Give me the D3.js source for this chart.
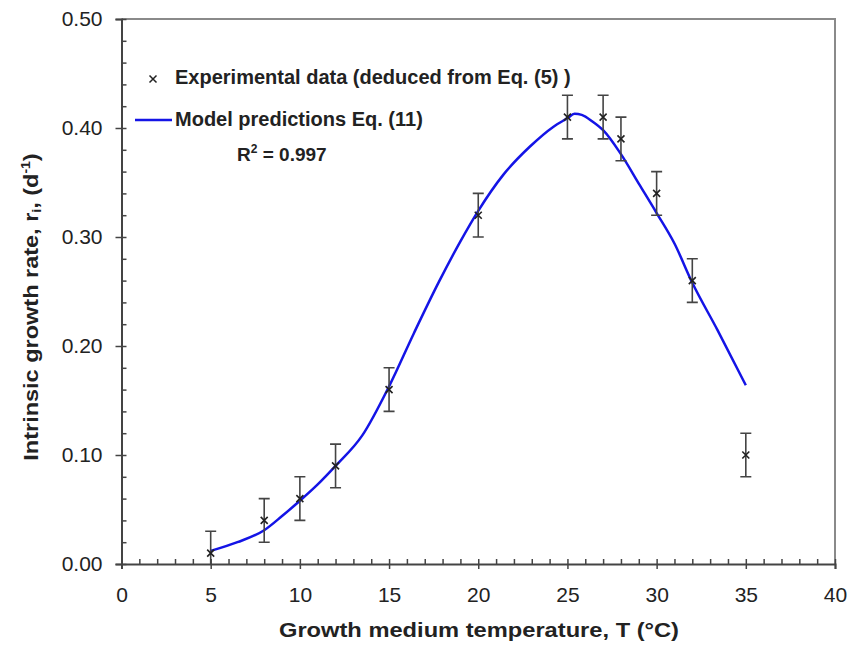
<!DOCTYPE html>
<html>
<head>
<meta charset="utf-8">
<script src="https://cdn.jsdelivr.net/npm/d3@7"></script>
<style>
  body { margin: 0; background: #fff; }
  svg { display: block; font-family: "Liberation Sans", Arial, sans-serif; }
</style>
</head>
<body>
<script>
// experimental points (deduced from Eq. 5)
const tempObs = [5, 8, 10, 12, 15, 20, 25, 27, 28, 30, 32, 35];
const rateObs = [0.01, 0.04, 0.06, 0.09, 0.16, 0.32, 0.41, 0.41, 0.39, 0.34, 0.26, 0.10];
const rateErr = [0.02, 0.02, 0.02, 0.02, 0.02, 0.02, 0.02, 0.02, 0.02, 0.02, 0.02, 0.02];
// model curve Eq. (11)
const tempModel = [5, 6.5, 8, 9, 10, 11, 12, 13.5, 15, 16.4, 17.8, 19, 20, 21.4, 22.9, 24.2, 25, 25.4, 25.8, 26.4, 27, 28, 29, 30, 31, 32, 33.4, 35];
const rateModel = [0.012, 0.02, 0.031, 0.044, 0.058, 0.073, 0.09, 0.118, 0.163, 0.212, 0.259, 0.296, 0.324, 0.357, 0.383, 0.401, 0.409, 0.413, 0.412, 0.406, 0.398, 0.376, 0.349, 0.322, 0.294, 0.258, 0.215, 0.164];
// ticks
const xTicks = [0, 5, 10, 15, 20, 25, 30, 35, 40];
const yTicks = [0, 0.1, 0.2, 0.3, 0.4, 0.5];

const width = 849, height = 646;
const plotL = 121.5, plotR = 835, plotT = 19, plotB = 564;

const svg = d3.select("body").append("svg")
  .attr("width", width)
  .attr("height", height);

const x = d3.scaleLinear().domain([0, 40]).range([plotL, plotR]);
const y = d3.scaleLinear().domain([0, 0.5]).range([plotB, plotT]);

svg.append("clipPath").attr("id", "plot")
  .append("rect")
  .attr("x", plotL).attr("y", plotT)
  .attr("width", plotR - plotL).attr("height", plotB - plotT);

// frame (top / right)
svg.append("path")
  .attr("d", `M${plotL},${plotT}H${plotR}V${plotB}`)
  .attr("fill", "none")
  .attr("stroke", "#8a8a8a")
  .attr("stroke-width", 2);

// minor ticks inward
const minorX = svg.append("g")
  .attr("transform", `translate(0,${plotB})`)
  .call(d3.axisTop(x).tickValues(d3.range(0, 41, 1)).tickSize(5).tickFormat(""));
const minorY = svg.append("g")
  .attr("transform", `translate(${plotL},0)`)
  .call(d3.axisRight(y).tickValues(d3.range(0, 0.5001, 0.02)).tickSize(5).tickFormat(""));

// major axes
const xAxis = svg.append("g")
  .attr("transform", `translate(0,${plotB})`)
  .call(d3.axisBottom(x).tickValues(xTicks).tickSize(5).tickPadding(18).tickFormat(d3.format("d")));
const yAxis = svg.append("g")
  .attr("transform", `translate(${plotL},0)`)
  .call(d3.axisLeft(y).tickValues(yTicks).tickSize(6).tickPadding(13).tickFormat(d3.format(".2f")));

[minorX, minorY, xAxis, yAxis].forEach(g => {
  g.select(".domain").attr("stroke", "#444").attr("stroke-width", 2);
  g.selectAll(".tick line").attr("stroke", "#444").attr("stroke-width", 1.5);
  g.selectAll("text")
    .attr("fill", "#222")
    .style("font-size", "21px");
});
minorX.select(".domain").remove();
minorY.select(".domain").remove();

// axis titles
svg.append("text")
  .attr("x", 479)
  .attr("y", 637)
  .attr("text-anchor", "middle")
  .attr("font-weight", "bold")
  .attr("font-size", 21)
  .attr("fill", "#222")
  .attr("textLength", 400)
  .attr("lengthAdjust", "spacingAndGlyphs")
  .text("Growth medium temperature, T (°C)");

const yTitle = svg.append("text")
  .attr("transform", `translate(38,307) rotate(-90) scale(1,0.86)`)
  .attr("text-anchor", "middle")
  .attr("font-weight", "bold")
  .attr("font-size", 23.5)
  .attr("fill", "#222");
yTitle.append("tspan").text("Intrinsic growth rate, r");
yTitle.append("tspan").attr("font-size", 14).attr("dy", 4).text("i");
yTitle.append("tspan").attr("dy", -4).text(", (d");
yTitle.append("tspan").attr("font-size", 14).attr("dy", -9).text("-1");
yTitle.append("tspan").attr("dy", 9).text(")");

// model curve
const line = d3.line()
  .x((d, i) => x(tempModel[i]))
  .y(d => y(d))
  .curve(d3.curveMonotoneX);

svg.append("path")
  .attr("d", line(rateModel))
  .attr("fill", "none")
  .attr("stroke", "#1414e6")
  .attr("stroke-width", 2.5);

// error bars and markers
const pts = svg.append("g").attr("clip-path", "url(#plot)")
  .selectAll("g")
  .data(rateObs)
  .join("g")
  .attr("stroke", "#444")
  .attr("stroke-width", 1.6);

pts.append("path")
  .attr("fill", "none")
  .attr("d", (d, i) => {
    const cx = x(tempObs[i]);
    const y1 = y(d + rateErr[i]), y2 = y(d - rateErr[i]);
    return `M${cx},${y1}V${y2}M${cx - 5.5},${y1}H${cx + 5.5}M${cx - 5.5},${y2}H${cx + 5.5}`;
  });

pts.append("path")
  .attr("stroke", "#222")
  .attr("d", (d, i) => {
    const cx = x(tempObs[i]), cy = y(d);
    return `M${cx - 3.5},${cy - 3.5}L${cx + 3.5},${cy + 3.5}M${cx - 3.5},${cy + 3.5}L${cx + 3.5},${cy - 3.5}`;
  });

// legend
const legend = svg.append("g")
  .attr("font-weight", "bold")
  .attr("font-size", 20)
  .attr("fill", "#222");

legend.append("path")
  .attr("d", "M149.5,75.5L156.5,82.5M149.5,82.5L156.5,75.5")
  .attr("stroke", "#222")
  .attr("stroke-width", 1.5);
legend.append("text").attr("x", 175).attr("y", 84)
  .text("Experimental data (deduced from Eq. (5) )");

legend.append("line")
  .attr("x1", 135).attr("x2", 172)
  .attr("y1", 120).attr("y2", 120)
  .attr("stroke", "#1414e6")
  .attr("stroke-width", 2.5);
legend.append("text").attr("x", 175).attr("y", 126)
  .text("Model predictions Eq. (11)");

const r2 = legend.append("text").attr("x", 237).attr("y", 161).attr("font-size", 19);
r2.append("tspan").text("R");
r2.append("tspan").attr("font-size", 12).attr("dy", -8).text("2");
r2.append("tspan").attr("dy", 8).text(" = 0.997");
</script>
</body>
</html>
